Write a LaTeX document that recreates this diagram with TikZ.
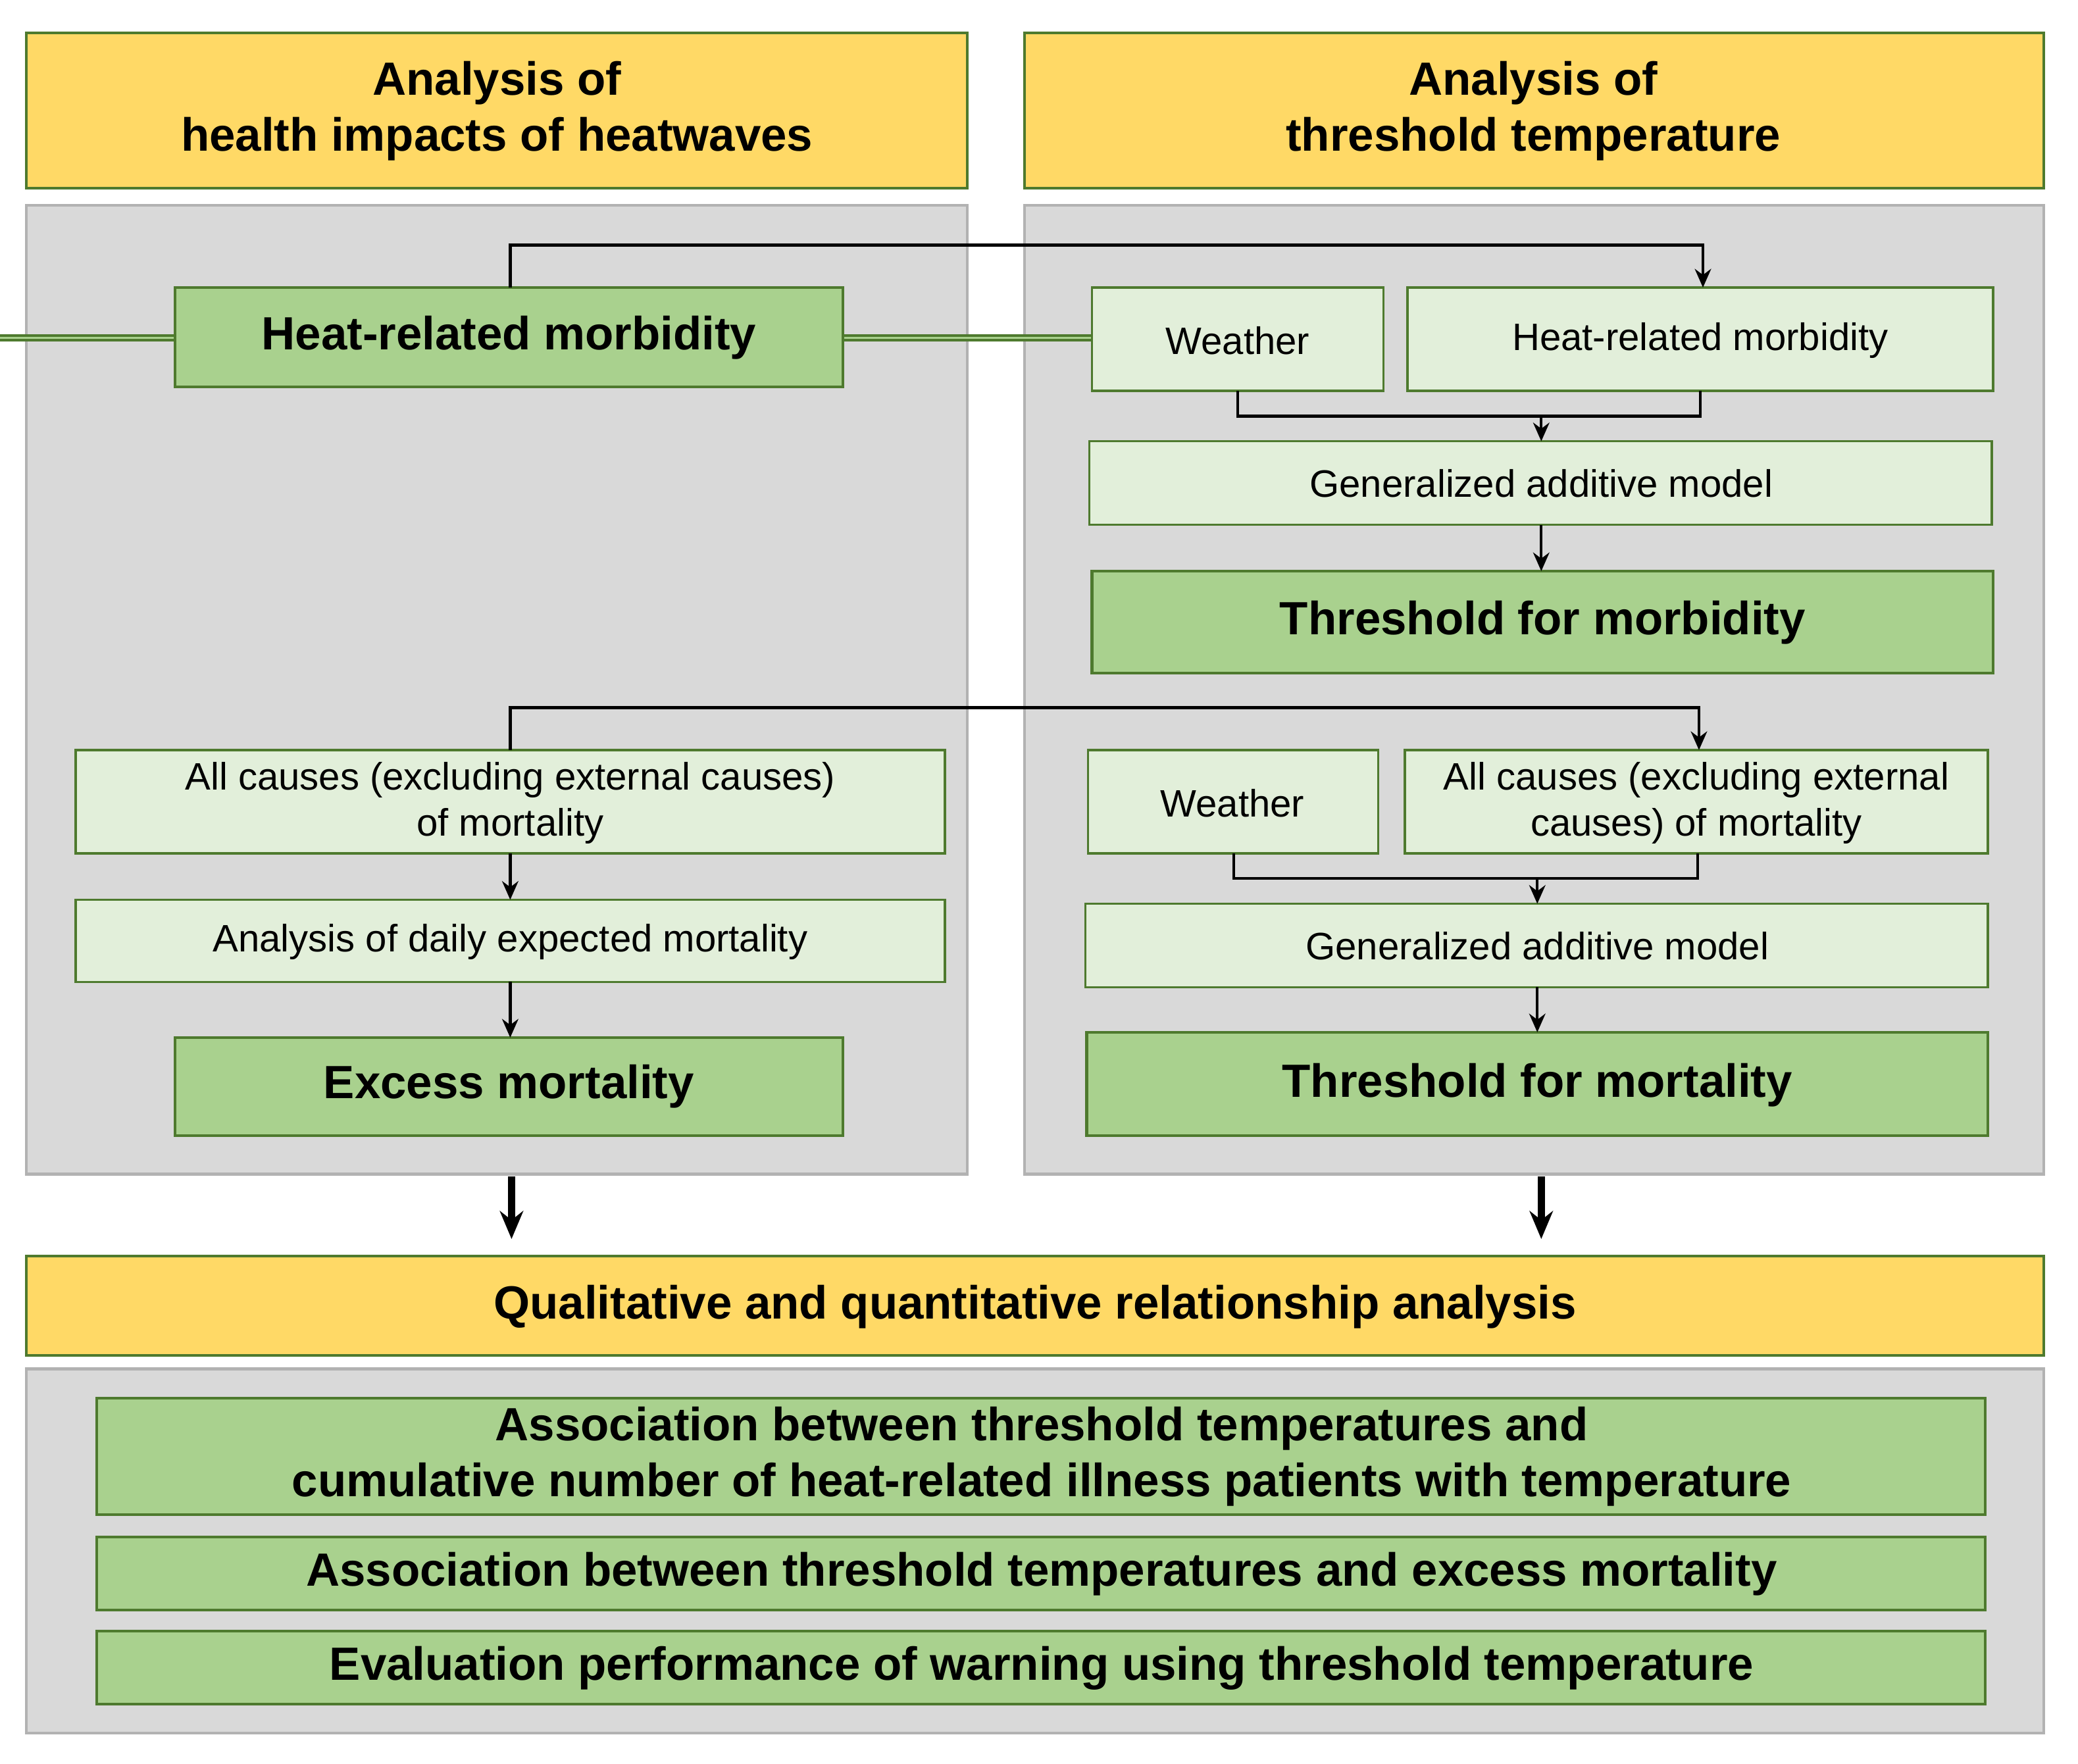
\documentclass[tikz,border=0pt]{standalone}
\usepackage{fontspec}
\setmainfont{Liberation Sans}
\usetikzlibrary{arrows.meta}
\definecolor{yel}{HTML}{FFD966}
\definecolor{gry}{HTML}{D9D9D9}
\definecolor{dg}{HTML}{A9D18E}
\definecolor{lg}{HTML}{E2EFDA}
\definecolor{bd}{HTML}{4E7A2E}
\begin{document}
\begin{tikzpicture}[x=0.01cm,y=-0.01cm,
 yb/.style={fill=yel,draw=bd,line width=0.6pt},
 gb/.style={fill=gry,draw=gray!60,line width=0.6pt},
 dgb/.style={fill=dg,draw=bd,line width=0.6pt},
 lgb/.style={fill=lg,draw=bd,line width=0.5pt},
 tt/.style={font=\fontsize{10pt}{12pt}\selectfont\bfseries,align=center},
 lt/.style={font=\fontsize{8.2pt}{10pt}\selectfont,align=center},
 ar/.style={-{Stealth[length=4pt,width=3.5pt]},line width=0.6pt},
 ln/.style={line width=0.6pt},
 bar/.style={-{Stealth[length=6pt,width=5pt]},line width=1.5pt}]
\useasboundingbox (0,0) rectangle (1568,1331);
\fill[white] (0,0) rectangle (1568,1331);
% panels
\draw[yb] (20,25) rectangle (730,142); \node[tt] (h1) at (375,84) {Analysis of\\health impacts of heatwaves};
\draw[yb] (773,25) rectangle (1542,142); \node[tt] (h2) at (1157,84) {Analysis of\\threshold temperature};
\draw[gb] (20,155) rectangle (730,886);
\draw[gb] (773,155) rectangle (1542,886);
% left
\node[dgb,tt,minimum width=504\pgflinewidth,inner sep=0] (hrm) at (384,255) {};
\draw[dgb] (132,217) rectangle (636,292); \node[tt] at (384,255) {Heat-related morbidity};
\coordinate (hrmT) at (385,217);
\draw[lgb] (57,566) rectangle (713,644); \node[lt] at (385,606) {All causes (excluding external causes)\\of mortality};
\coordinate (acT) at (385,566); \coordinate (acB) at (385,644);
\draw[lgb] (57,679) rectangle (713,741); \node[lt] at (385,711) {Analysis of daily expected mortality};
\coordinate (adT) at (385,679); \coordinate (adB) at (385,741);
\draw[dgb] (132,783) rectangle (636,857); \node[tt] at (384,820) {Excess mortality};
\coordinate (emT) at (385,783);
% right top
\draw[lgb] (824,217) rectangle (1044,295); \node[lt] at (934,257) {Weather};
\draw[lgb] (1062,217) rectangle (1504,295); \node[lt] at (1283,257) {Heat-related morbidity};
\draw[lgb] (822,333) rectangle (1503,396); \node[lt] at (1163,365) {Generalized additive model};
\draw[dgb] (824,431) rectangle (1504,508); \node[tt] at (1164,470) {Threshold for morbidity};
% right bottom
\draw[lgb] (821,566) rectangle (1040,644); \node[lt] at (930,606) {Weather};
\draw[lgb] (1060,566) rectangle (1500,644); \node[lt] at (1280,606) {All causes (excluding external\\causes) of mortality};
\draw[lgb] (819,682) rectangle (1500,745); \node[lt] at (1160,714) {Generalized additive model};
\draw[dgb] (820,779) rectangle (1500,857); \node[tt] at (1160,819) {Threshold for mortality};
% connectors
\draw[ar] (hrmT) |- (1285,185) -- (1285,217);
\draw[ln] (934,295) |- (1283,314) -- (1283,295);
\draw[ar] (1163,314) -- (1163,333);
\draw[ar] (1163,396) -- (1163,431);
\draw[ar] (acT) |- (1282,534) -- (1282,566);
\draw[ar] (acB) -- (adT);
\draw[ar] (adB) -- (emT);
\draw[ln] (931,644) |- (1281,663) -- (1281,644);
\draw[ar] (1160,663) -- (1160,682);
\draw[ar] (1160,745) -- (1160,779);
\draw[bar] (386,888) -- (386,935);
\draw[bar] (1163,888) -- (1163,935);
% bottom
\draw[yb] (20,948) rectangle (1542,1023); \node[tt] at (781,986) {Qualitative and quantitative relationship analysis};
\draw[gb] (20,1033) rectangle (1542,1308);
\draw[dgb] (73,1055) rectangle (1498,1143); \node[tt] at (786,1099) {Association between threshold temperatures and\\cumulative number of heat-related illness patients with temperature};
\draw[dgb] (73,1160) rectangle (1498,1215); \node[tt] at (786,1188) {Association between threshold temperatures and excess mortality};
\draw[dgb] (73,1231) rectangle (1498,1286); \node[tt] at (786,1259) {Evaluation performance of warning using threshold temperature};
\end{tikzpicture}
\end{document}
